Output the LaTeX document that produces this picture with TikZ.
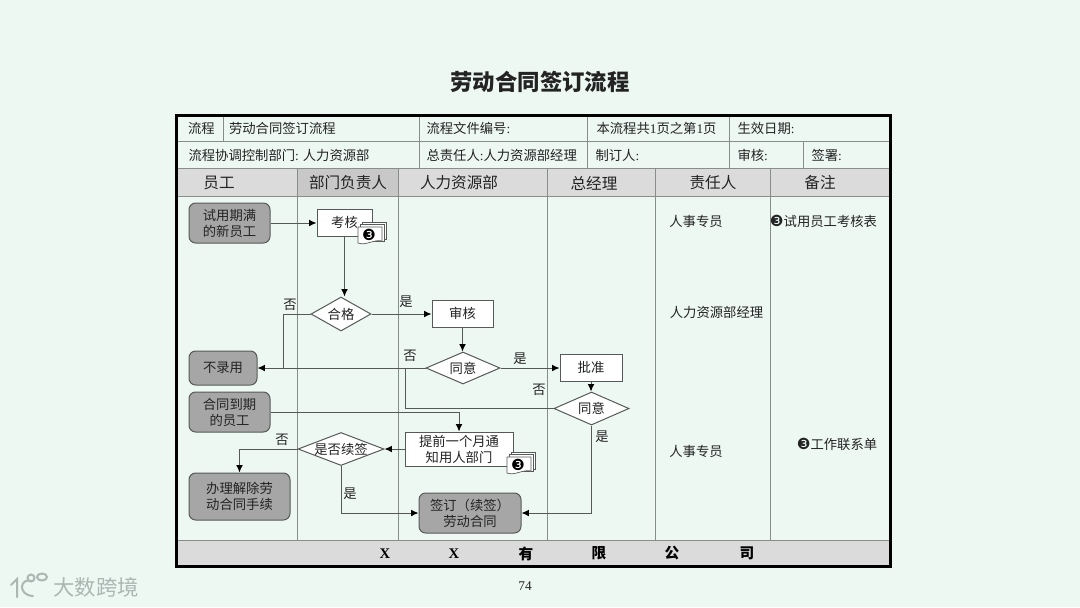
\documentclass[tikz,border=0pt]{standalone}
\usepackage{fontspec}
\setmainfont{Noto Sans CJK SC}
\newfontfamily\latinfont{Liberation Serif}
\newfontfamily\symfont{DejaVu Sans}
\usetikzlibrary{arrows.meta,shapes.geometric}
\definecolor{pagebg}{RGB}{237,248,243}
\definecolor{bandgray}{RGB}{219,219,219}
\definecolor{bandgraydark}{RGB}{200,200,200}
\definecolor{boxgray}{RGB}{166,166,166}
\definecolor{gridgray}{RGB}{135,142,138}
\definecolor{linegray}{RGB}{85,90,88}
\definecolor{inkgray}{RGB}{35,35,35}
\newcommand{\ltn}[1]{{\latinfont #1}}
\newcommand{\sheetno}{{\symfont\fontsize{11.5}{11.5}\selectfont ❸}}
\tikzset{
  every picture/.style={line width=0.75pt},
  boxsize/.style 2 args={minimum width=#1*0.75pt,minimum height=#2*0.75pt},
  celltext/.style={anchor=west,inner sep=0pt,text=inkgray,font=\fontsize{10}{12}\selectfont},
  headtext/.style={inner sep=0pt,text=inkgray,font=\fontsize{11.7}{14}\selectfont},
  foottext/.style={inner sep=0pt,text=black,font=\fontsize{11}{13}\bfseries\selectfont},
  sidetext/.style={inner sep=0pt,text=inkgray,font=\fontsize{10}{12}\selectfont},
  startbox/.style={draw=linegray,fill=boxgray,rounded corners=5pt,align=center,inner sep=0pt,text=inkgray,font=\fontsize{10}{12}\selectfont},
  workbox/.style={draw=linegray,fill=white,align=center,inner sep=0pt,text=inkgray,font=\fontsize{10}{12}\selectfont},
  decision/.style={diamond,draw=linegray,fill=white,inner sep=0pt,text=inkgray,font=\fontsize{10}{12}\selectfont},
  flow/.style={draw=linegray,-{Latex[length=5.5pt,width=5pt,color=black]}},
  flowplain/.style={draw=linegray},
  page/.style={draw=linegray,fill=white,line width=0.5pt},
}
\newcommand{\papers}[3]{%
  \draw [page] (#1+4,#2-5) rectangle (#1+28,#2+12);
  \draw [page] (#1+2,#2-2.5) rectangle (#1+26,#2+14);
  \draw [page] (#1,#2) -- (#1+24,#2) -- (#1+24,#2+14) .. controls (#1+16,#2+12) and (#1+8,#2+19) .. (#1,#2+16) -- cycle;
  \node (#3) [inner sep=0pt] at (#1+11,#2+8) {\sheetno};
}

\begin{document}
\begin{tikzpicture}[x=0.75pt,y=0.75pt,yscale=-1,xscale=1]
\useasboundingbox (0,0) rectangle (1080,607);
\fill [pagebg] (0,0) rectangle (1080,607);

%Title
\node (title) [inner sep=0pt,text=inkgray,font=\fontsize{16.8}{20}\bfseries\selectfont] at (540,82) {劳动合同签订流程};
\node (pageno) [inner sep=0pt,text=inkgray,font=\fontsize{10}{12}\selectfont] at (525,586) {\ltn{74}};

%Bands
\fill [bandgray] (176,168) rectangle (890,196);
\fill [bandgraydark] (297,168) rectangle (398,196);
\fill [bandgray] (176,540) rectangle (890,566);

%Table lines
\foreach \x in {297,398,547,655,770}
  \draw [gridgray] (\x,168) -- (\x,540);
\foreach \y in {141,168,196,540}
  \draw [gridgray] (176,\y) -- (890,\y);
\draw [gridgray] (223,115) -- (223,141);
\foreach \x in {419,587,729}
  \draw [gridgray] (\x,115) -- (\x,168);
\draw [gridgray] (803,141) -- (803,168);
\draw [line width=2.25pt] (176,115) rectangle (890,566);

% Text Node
\node (flowtag) [celltext] at (187.5,128) {流程};
\node (flowname) [celltext] at (228.5,128) {劳动合同签订流程};
\node (fileno) [celltext] at (426,128) {流程文件编号\ltn{:}};
\node (pagecount) [celltext] at (596,128) {本流程共\ltn{1}页之第\ltn{1}页};
\node (startdate) [celltext] at (737,128) {生效日期\ltn{:}};
\node (dept) [celltext] at (188,155) {流程协调控制部门\ltn{:} 人力资源部};
\node (owner) [celltext] at (426,155) {总责任人\ltn{:}人力资源部经理};
\node (maker) [celltext] at (595,155) {制订人\ltn{:}};
\node (checker) [celltext] at (737,155) {审核\ltn{:}};
\node (signer) [celltext] at (811,155) {签署\ltn{:}};

% Text Node
\node (headstaff) [headtext] at (219,183) {员工};
\node (headdept) [headtext] at (348,183) {部门负责人};
\node (headhr) [headtext] at (459,183) {人力资源部};
\node (headgm) [headtext] at (594,183) {总经理};
\node (headresp) [headtext] at (713,183) {责任人};
\node (headnote) [headtext] at (820,183) {备注};

% Text Node
\node (footxa) [foottext] at (385,553.5) {\ltn{X}};
\node (footxb) [foottext] at (454,553.5) {\ltn{X}};
\node (footyou) [foottext] at (526,553.5) {有};
\node (footxian) [foottext] at (599,553.5) {限};
\node (footgong) [foottext] at (672,553.5) {公};
\node (footsi) [foottext] at (747,553.5) {司};

%Shapes
\node (trial) [startbox,boxsize={81}{40}] at (229.5,223) {试用期满\\的新员工};
\node (assess) [workbox,boxsize={55}{27}] at (344.5,222.5) {考核};
\node (pass) [decision,boxsize={60}{34}] at (341,314) {\makebox[0pt]{合格}};
\node (review) [workbox,boxsize={61}{27}] at (462.5,313.5) {审核};
\node (agree) [decision,boxsize={74}{32}] at (463,368) {\makebox[0pt]{同意}};
\node (reject) [startbox,boxsize={68}{34}] at (223,368) {不录用};
\node (approve) [workbox,boxsize={62}{27}] at (591,367.5) {批准};
\node (agreegm) [decision,boxsize={75}{33}] at (591.5,408.5) {\makebox[0pt]{同意}};
\node (expire) [startbox,boxsize={81}{40}] at (229.5,412) {合同到期\\的员工};
\node (notify) [workbox,boxsize={108}{34}] at (459,449) {提前一个月通\\知用人部门};
\node (renew) [decision,boxsize={86}{33}] at (341,449) {\makebox[0pt]{是否续签}};
\node (release) [startbox,boxsize={101}{47}] at (239.5,496.5) {办理解除劳\\动合同手续};
\node (sign) [startbox,boxsize={102}{40}] at (470,513) {签订（续签）\\劳动合同};

%Sheets
\papers{358}{227}{sheetassess}
\papers{507}{457}{sheetnotify}

%Helper points
\coordinate (joinpass) at (283,368);
\coordinate (joingm) at (405,368);

%Connectors
\draw [flow] (trial.east) -- (assess.west |- trial.east);
\draw [flow] (assess.south) -- (assess.south |- pass.north);
\draw [flow] (pass.east) -- (review.west |- pass.east);
\draw [flow] (review.south) -- (review.south |- agree.north);
\draw [flow] (agree.west) -- (reject.east);
\draw [flowplain] (pass.west) -| (joinpass);
\draw [flow] (agree.east) -- (approve.west |- agree.east);
\draw [flow] (approve.south) -- (approve.south |- agreegm.north);
\draw [flowplain] (agreegm.west) -| (joingm);
\draw [flow] (agreegm.south) |- (sign.east);
\draw [flow] (expire.east) -| (notify.north);
\draw [flow] (notify.west) -- (renew.east);
\draw [flow] (renew.west) -| (release.north);
\draw [flow] (renew.south) |- (sign.west);

% Text Node
\node (nopass) [sidetext] at (290,304.5) {否};
\node (yespass) [sidetext] at (406,302) {是};
\node (noagree) [sidetext] at (410,356) {否};
\node (yesagree) [sidetext] at (520,358.5) {是};
\node (nogm) [sidetext] at (539,390) {否};
\node (yesgm) [sidetext] at (602,437) {是};
\node (norenew) [sidetext] at (282,440) {否};
\node (yesrenew) [sidetext] at (350,494) {是};

% Text Node
\node (respa) [sidetext] at (696,221) {人事专员};
\node (respb) [sidetext] at (716.5,312) {人力资源部经理};
\node (respc) [sidetext] at (696,451) {人事专员};
\node (notea) [sidetext] at (823.5,221.5) {\sheetno 试用员工考核表};
\node (noteb) [sidetext] at (837,444) {\sheetno 工作联系单};

%Watermark
\node (mark) [inner sep=0pt,text={rgb,255:red,172;green,182;blue,179},font=\fontsize{16}{18}\selectfont] at (96,587) {大数跨境};
\begin{scope}[draw={rgb,255:red,172;green,182;blue,179},line width=1.5pt,line cap=round]
\draw (11,585) -- (17,579) -- (17,597);
\draw (32,581) .. controls (20,577) and (17,595) .. (33,596);
\draw (31,578) circle [radius=3.5];
\draw (42,577) ellipse [x radius=5,y radius=3.5];
\end{scope}
\end{tikzpicture}
\end{document}
